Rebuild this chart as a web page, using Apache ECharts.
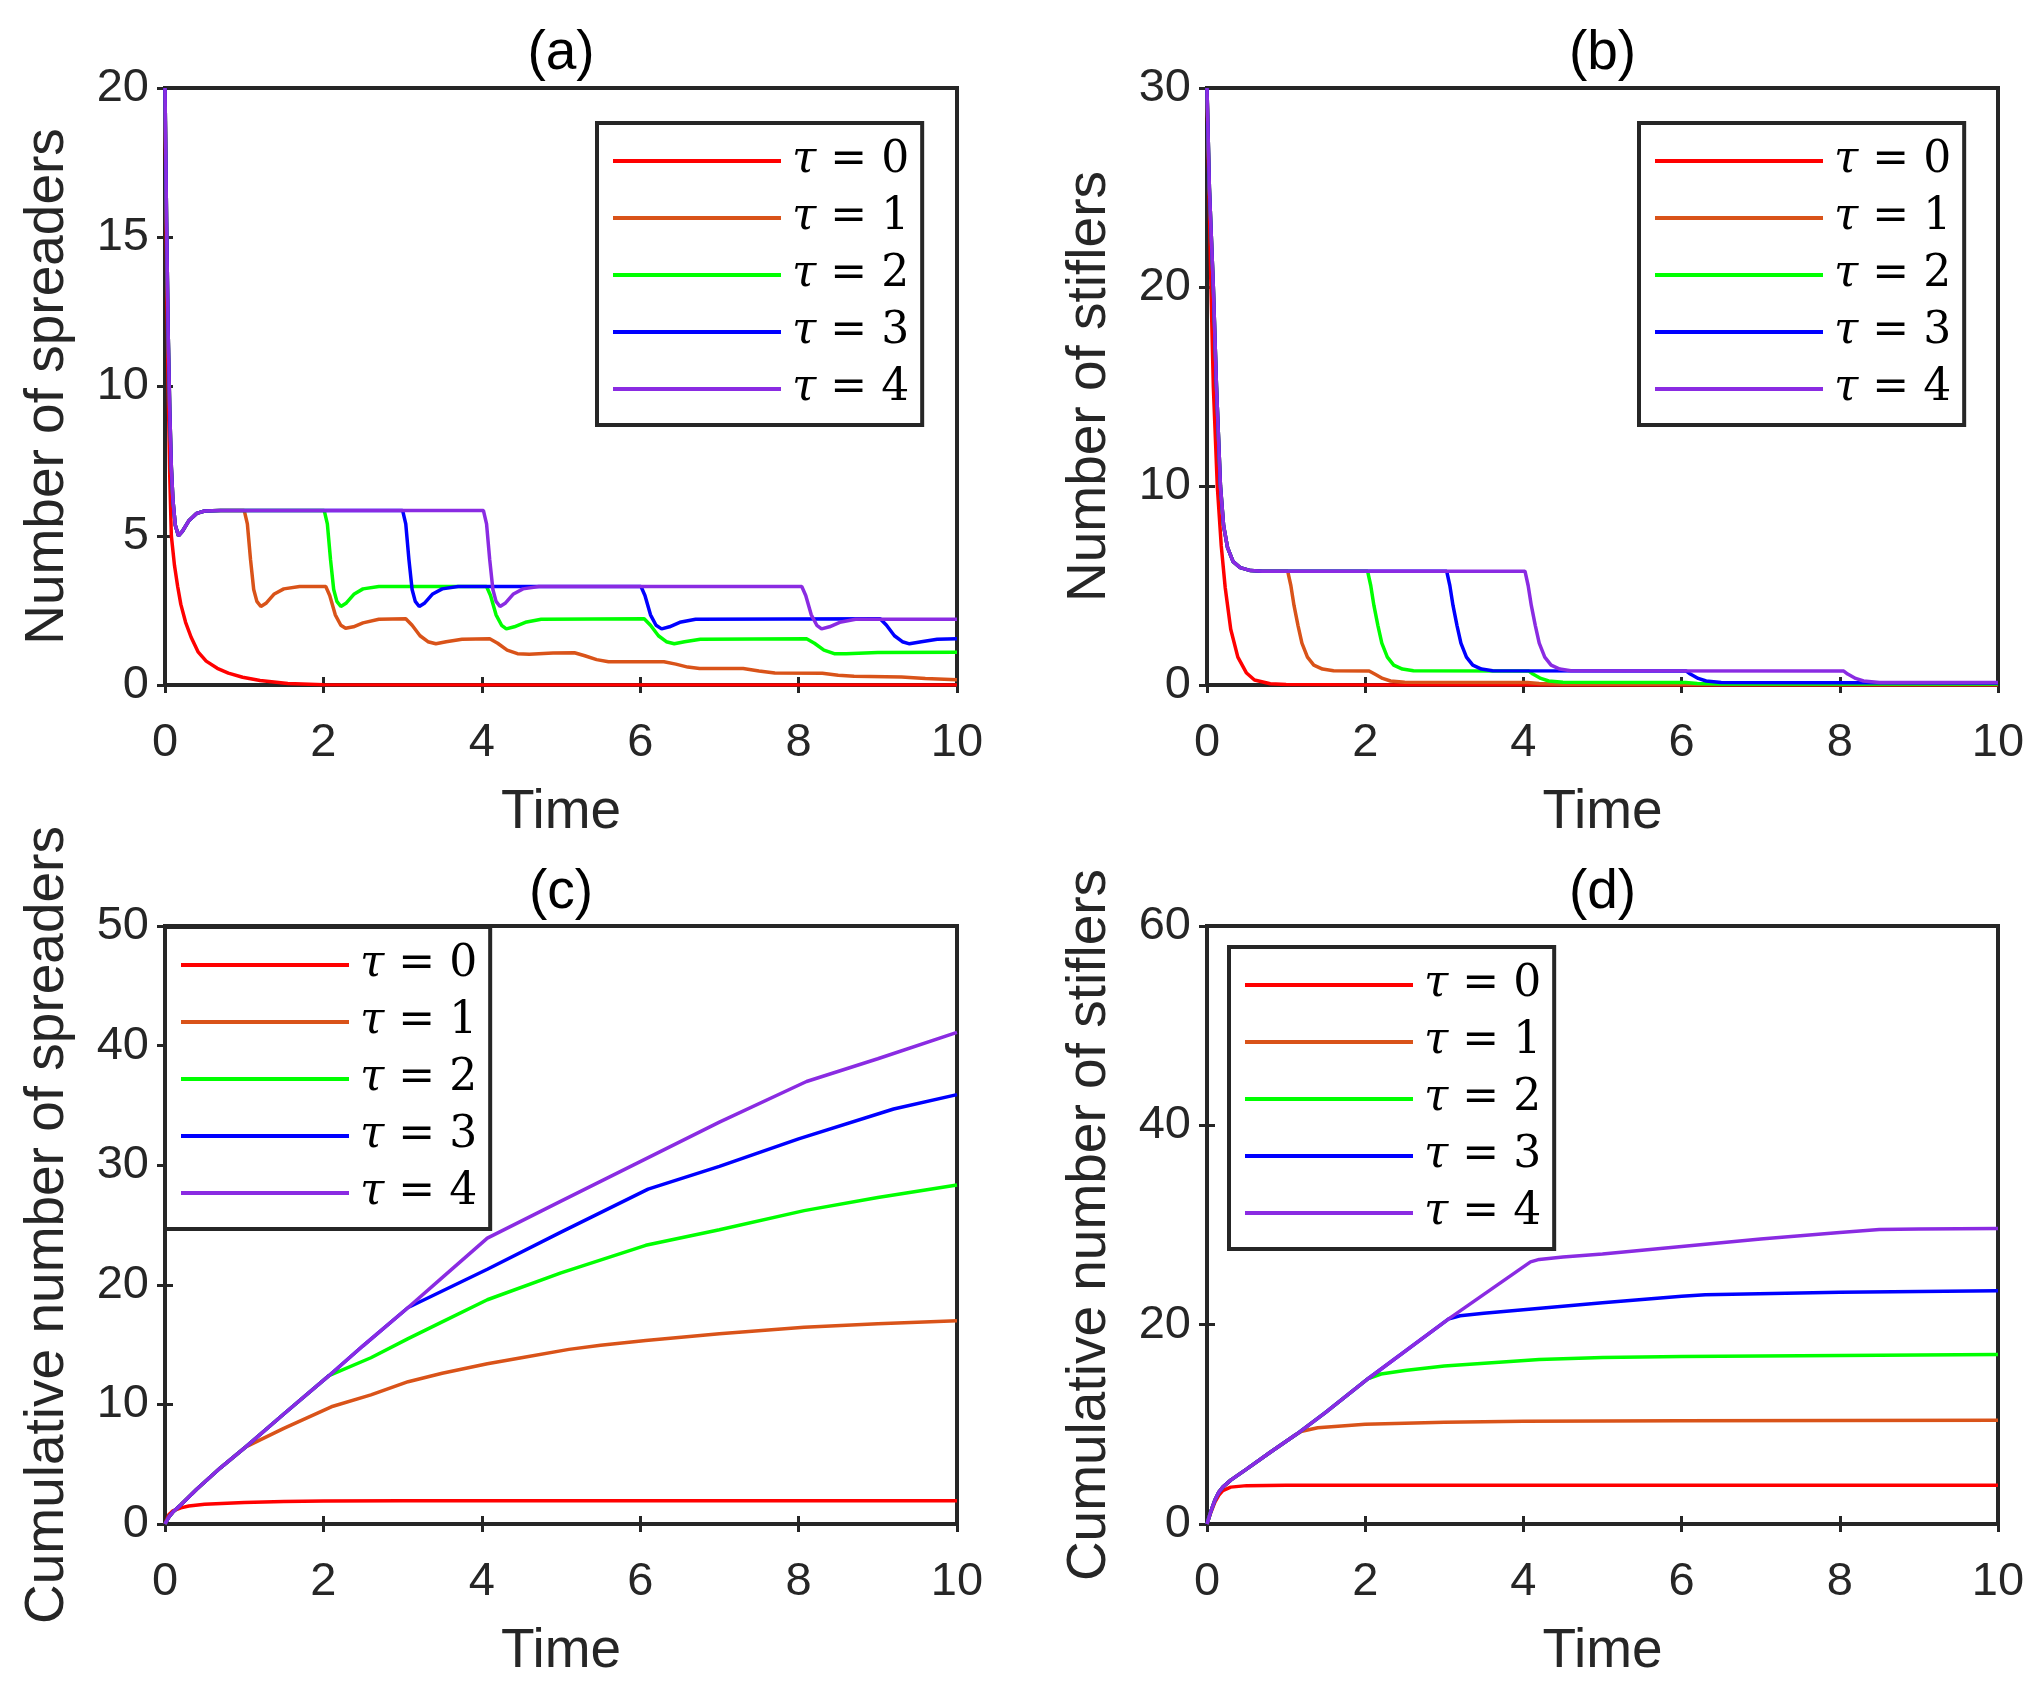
<!DOCTYPE html>
<html><head><meta charset="utf-8">
<script src="https://cdn.jsdelivr.net/npm/echarts/dist/echarts.min.js"></script>
<style>html,body{margin:0;padding:0;background:#fff}#c{width:2039px;height:1694px}</style>
</head><body><div id="c"></div><script>
// ---------- data ----------
const seriesNames = ['τ = 0', 'τ = 1', 'τ = 2', 'τ = 3', 'τ = 4'];
const panelTitles = ['(a)', '(b)', '(c)', '(d)'];
const yNames = ['Number of spreaders', 'Number of stiflers', 'Cumulative number of spreaders', 'Cumulative number of stiflers'];
const xName = 'Time';
const yMax = [20, 30, 50, 60];
const yStep = [5, 10, 10, 20];
const xMax = 10, xStep = 2;

// (a) spreaders
const aTau0 = [[0,20],[0.02,14],[0.04,10],[0.06,7],[0.08,5.0],[0.12,4.0],[0.16,3.3],[0.2,2.7],[0.26,2.1],[0.33,1.6],[0.42,1.1],[0.52,0.8],[0.66,0.56],[0.8,0.4],[0.98,0.26],[1.2,0.15],[1.55,0.05],[2,0.01],[3,0],[10,0]];
const aInit = [[0,20],[0.02,15.5],[0.04,11.8],[0.06,9.2],[0.08,7.3],[0.1,6.2],[0.13,5.35],[0.17,5.0],[0.22,5.15],[0.3,5.5],[0.4,5.75],[0.5,5.83],[0.7,5.85]];
const aTau1 = aInit.concat([[1.0,5.85],[1.04,5.4],[1.08,4.2],[1.12,3.2],[1.16,2.8],[1.21,2.63],[1.28,2.75],[1.38,3.05],[1.5,3.22],[1.7,3.3],[2.03,3.3],[2.08,3.0],[2.15,2.35],[2.22,2.0],[2.28,1.9],[2.38,1.95],[2.5,2.08],[2.7,2.2],[3.04,2.22],[3.12,2.0],[3.22,1.65],[3.32,1.45],[3.42,1.38],[3.55,1.45],[3.75,1.53],[4.1,1.55],[4.2,1.4],[4.32,1.17],[4.45,1.05],[4.6,1.03],[4.9,1.07],[5.17,1.08],[5.3,0.98],[5.45,0.85],[5.6,0.78],[6.3,0.78],[6.45,0.7],[6.6,0.6],[6.75,0.55],[7.3,0.55],[7.5,0.47],[7.7,0.4],[8.3,0.39],[8.5,0.33],[8.7,0.29],[9.3,0.27],[9.6,0.22],[10,0.18]]);
const aTau2 = aInit.concat([[2.01,5.85],[2.05,5.4],[2.09,4.2],[2.13,3.2],[2.17,2.8],[2.22,2.63],[2.29,2.75],[2.39,3.05],[2.5,3.22],[2.7,3.3],[4.06,3.3],[4.11,3.0],[4.18,2.35],[4.25,2.0],[4.31,1.88],[4.41,1.95],[4.55,2.1],[4.75,2.2],[6.05,2.22],[6.13,2.0],[6.23,1.65],[6.33,1.45],[6.43,1.38],[6.56,1.45],[6.76,1.53],[8.1,1.55],[8.2,1.4],[8.32,1.17],[8.45,1.05],[8.6,1.05],[9,1.09],[10,1.1]]);
const aTau3 = aInit.concat([[3.0,5.85],[3.04,5.4],[3.08,4.2],[3.12,3.2],[3.16,2.8],[3.21,2.63],[3.28,2.75],[3.38,3.05],[3.5,3.22],[3.7,3.3],[6.01,3.3],[6.06,3.0],[6.13,2.35],[6.2,2.0],[6.27,1.88],[6.37,1.95],[6.5,2.1],[6.7,2.2],[9.03,2.22],[9.11,2.0],[9.21,1.65],[9.31,1.45],[9.4,1.38],[9.55,1.45],[9.75,1.53],[10,1.55]]);
const aTau4 = aInit.concat([[4.02,5.85],[4.06,5.4],[4.1,4.2],[4.14,3.2],[4.18,2.8],[4.23,2.63],[4.3,2.75],[4.4,3.05],[4.52,3.22],[4.72,3.3],[8.04,3.3],[8.09,3.0],[8.16,2.35],[8.23,2.0],[8.29,1.88],[8.39,1.95],[8.52,2.1],[8.72,2.2],[10,2.2]]);

// (b) stiflers
const bTau0 = [[0,30],[0.02,26],[0.05,20],[0.08,15],[0.13,10],[0.18,7],[0.23,4.9],[0.3,2.8],[0.39,1.4],[0.5,0.6],[0.6,0.25],[0.8,0.06],[1,0.02],[2,0],[10,0]];
const bInit = [[0,30],[0.03,25],[0.08,20],[0.12,15],[0.17,10],[0.21,8],[0.26,6.9],[0.33,6.2],[0.42,5.9],[0.55,5.75],[0.7,5.72]];
const bTau1 = bInit.concat([[1.02,5.72],[1.06,5.0],[1.1,4.0],[1.15,3.0],[1.2,2.1],[1.27,1.4],[1.35,1.0],[1.46,0.8],[1.6,0.72],[2.05,0.7],[2.12,0.55],[2.22,0.33],[2.32,0.2],[2.5,0.14],[4.05,0.12],[4.2,0.07],[4.5,0.04],[10,0.03]]);
const bTau2 = bInit.concat([[2.03,5.72],[2.07,5.0],[2.11,4.0],[2.16,3.0],[2.21,2.1],[2.28,1.4],[2.36,1.0],[2.47,0.8],[2.61,0.72],[4.07,0.7],[4.12,0.55],[4.22,0.33],[4.32,0.2],[4.5,0.14],[6.05,0.12],[6.2,0.07],[6.5,0.05],[10,0.05]]);
const bTau3 = bInit.concat([[3.03,5.72],[3.07,5.0],[3.11,4.0],[3.16,3.0],[3.21,2.1],[3.28,1.4],[3.36,1.0],[3.47,0.8],[3.61,0.72],[6.06,0.7],[6.11,0.55],[6.21,0.33],[6.31,0.2],[6.5,0.13],[10,0.1]]);
const bTau4 = bInit.concat([[4.02,5.72],[4.06,5.0],[4.1,4.0],[4.15,3.0],[4.2,2.1],[4.27,1.4],[4.35,1.0],[4.46,0.8],[4.6,0.72],[8.05,0.7],[8.1,0.55],[8.2,0.33],[8.3,0.2],[8.5,0.13],[10,0.12]]);

// (c) cumulative spreaders
const cTau0 = [[0,0],[0.05,0.8],[0.1,1.1],[0.2,1.35],[0.3,1.5],[0.5,1.65],[1,1.8],[1.5,1.88],[2,1.93],[3,1.95],[10,1.95]];
const cInit = [[0,0],[0.05,0.6],[0.1,1.0],[0.2,1.6],[0.4,2.9],[0.7,4.7],[1.02,6.45]];
const cTau1 = cInit.concat([[1.5,8.0],[2.1,9.8],[2.6,10.8],[3.07,11.9],[3.5,12.6],[4.07,13.4],[4.5,13.9],[5.1,14.6],[5.5,14.95],[6.07,15.35],[7,15.9],[8.07,16.45],[9,16.75],[10,17.0]]);
const cTau2 = cInit.concat([[1.5,9.2],[2.07,12.4],[2.6,13.9],[3.07,15.5],[3.5,16.9],[4.07,18.75],[5,21.0],[6.07,23.3],[7,24.6],[8.07,26.2],[9,27.3],[10,28.35]]);
const cTau3 = cInit.concat([[1.5,9.2],[2.07,12.4],[2.5,14.9],[3.07,18.1],[4.07,21.3],[5,24.4],[6.1,28.0],[7,29.9],[8,32.2],[9.2,34.7],[10,35.9]]);
const cTau4 = cInit.concat([[1.5,9.2],[2.07,12.4],[2.5,14.9],[3.07,18.1],[3.5,20.6],[4.07,23.9],[5,27.0],[6,30.3],[7,33.6],[8.1,37.0],[9,38.9],[10,41.1]]);

// (d) cumulative stiflers
const dTau0 = [[0,0],[0.05,1.2],[0.1,2.2],[0.15,2.9],[0.2,3.35],[0.3,3.7],[0.5,3.85],[1,3.9],[10,3.9]];
const dInit = [[0,0],[0.05,1.3],[0.1,2.4],[0.15,3.2],[0.2,3.7],[0.3,4.4],[0.5,5.5],[0.8,7.2],[1.13,9.0]];
const dTau1 = dInit.concat([[1.2,9.3],[1.4,9.65],[2,10.0],[3,10.2],[4,10.3],[6,10.35],[10,10.4]]);
const dTau2 = dInit.concat([[1.5,11.2],[2.04,14.6],[2.2,15.05],[2.5,15.4],[3,15.85],[4.2,16.5],[5,16.7],[6,16.8],[8,16.9],[10,17.0]]);
const dTau3 = dInit.concat([[1.5,11.2],[2.04,14.6],[3.06,20.6],[3.2,20.9],[3.5,21.15],[4,21.5],[5,22.2],[6,22.85],[6.3,23.0],[8,23.25],[10,23.4]]);
const dTau4 = dInit.concat([[1.5,11.2],[2.04,14.6],[3.06,20.6],[4.09,26.3],[4.2,26.55],[4.5,26.8],[5,27.1],[6,27.85],[7,28.6],[8,29.25],[8.5,29.55],[9,29.6],[10,29.65]]);

const panelData = [
  [aTau0, aTau1, aTau2, aTau3, aTau4],
  [bTau0, bTau1, bTau2, bTau3, bTau4],
  [cTau0, cTau1, cTau2, cTau3, cTau4],
  [dTau0, dTau1, dTau2, dTau3, dTau4]
];

// ---------- style / layout ----------
const lineColors = ['#FF0000', '#D95319', '#00FF00', '#0000FF', '#8A2BE2'];
const ink = '#262626';
const sans = 'Liberation Sans, Arial, Helvetica, sans-serif';
const grids = [
  {left: 165, top: 88, width: 792, height: 597},
  {left: 1207, top: 88, width: 791, height: 597},
  {left: 165, top: 926, width: 792, height: 598},
  {left: 1207, top: 926, width: 791, height: 598}
];
const legendPos = [
  {left: 597, top: 123},
  {left: 1639, top: 123},
  {left: 165, top: 927},
  {left: 1229, top: 947}
];

const option = {
  animation: false,
  backgroundColor: '#fff',
  grid: grids.map(g => Object.assign({show: true, borderColor: ink, borderWidth: 4, backgroundColor: '#fff', containLabel: false, outerBoundsMode: 'none'}, g)),
  title: grids.map((g, i) => ({
    text: panelTitles[i], left: g.left + g.width / 2, top: i < 2 ? 26 : 865, textAlign: 'center', padding: 0,
    textStyle: {fontFamily: sans, fontSize: 55, fontWeight: 'normal', color: '#000'}
  })),
  xAxis: [],
  yAxis: [],
  legend: legendPos.map(p => ({
    orient: 'vertical', left: p.left, top: p.top, padding: [16, 13, 14, 16],
    itemWidth: 168, itemHeight: 4, itemGap: 13, icon: 'rect',
    borderColor: ink, borderWidth: 4, backgroundColor: '#fff', borderRadius: 0,
    selectedMode: false, data: seriesNames,
    formatter: n => '{t|τ}{n| = ' + n.slice(-1) + '}',
    textStyle: {padding: [0, 0, 0, 6], rich: {
      t: {fontFamily: 'DejaVu Serif', fontStyle: 'italic', fontSize: 44, color: '#000'},
      n: {fontFamily: 'DejaVu Serif', fontSize: 44, color: '#000'}
    }}
  })),
  series: []
};

const tickStyle = {inside: true, length: 8, lineStyle: {color: ink, width: 3}};
// main axes (indices 0..3)
for (let i = 0; i < 4; i++) {
  option.xAxis.push({
    gridIndex: i, type: 'value', min: 0, max: xMax, interval: xStep, position: 'bottom',
    name: xName, nameLocation: 'middle', nameGap: 100, nameMoveOverlap: false,
    nameTextStyle: {fontFamily: sans, fontSize: 55, color: ink},
    axisLine: {show: false}, axisTick: tickStyle, splitLine: {show: false},
    axisLabel: {margin: 35, fontFamily: sans, fontSize: 47, color: ink}
  });
  option.yAxis.push({
    gridIndex: i, type: 'value', min: 0, max: yMax[i], interval: yStep[i], position: 'left',
    name: yNames[i], nameLocation: 'middle', nameGap: 90, nameRotate: 90, nameMoveOverlap: false,
    nameTextStyle: {fontFamily: sans, fontSize: 55, color: ink},
    axisLine: {show: false}, axisTick: tickStyle, splitLine: {show: false},
    axisLabel: {margin: 16, fontFamily: sans, fontSize: 47, color: ink}
  });
}
// mirror axes for top/right ticks (indices 4..7)
for (let i = 0; i < 4; i++) {
  option.xAxis.push({
    gridIndex: i, type: 'value', min: 0, max: xMax, interval: xStep, position: 'top',
    axisLine: {show: false}, axisTick: tickStyle, axisLabel: {show: false}, splitLine: {show: false}
  });
  option.yAxis.push({
    gridIndex: i, type: 'value', min: 0, max: yMax[i], interval: yStep[i], position: 'right',
    axisLine: {show: false}, axisTick: tickStyle, axisLabel: {show: false}, splitLine: {show: false}
  });
}

for (let i = 0; i < 4; i++) {
  panelData[i].forEach((d, k) => {
    option.series.push({
      type: 'line', name: seriesNames[k], xAxisIndex: i, yAxisIndex: i,
      data: d, symbol: 'none', showSymbol: false, clip: true,
      color: lineColors[k], itemStyle: {color: lineColors[k]},
      lineStyle: {color: lineColors[k], width: 3.5}, z: 2 + k
    });
  });
}

const chart = echarts.init(document.getElementById('c'), null, {renderer: 'canvas'});
chart.setOption(option);
</script></body></html>
